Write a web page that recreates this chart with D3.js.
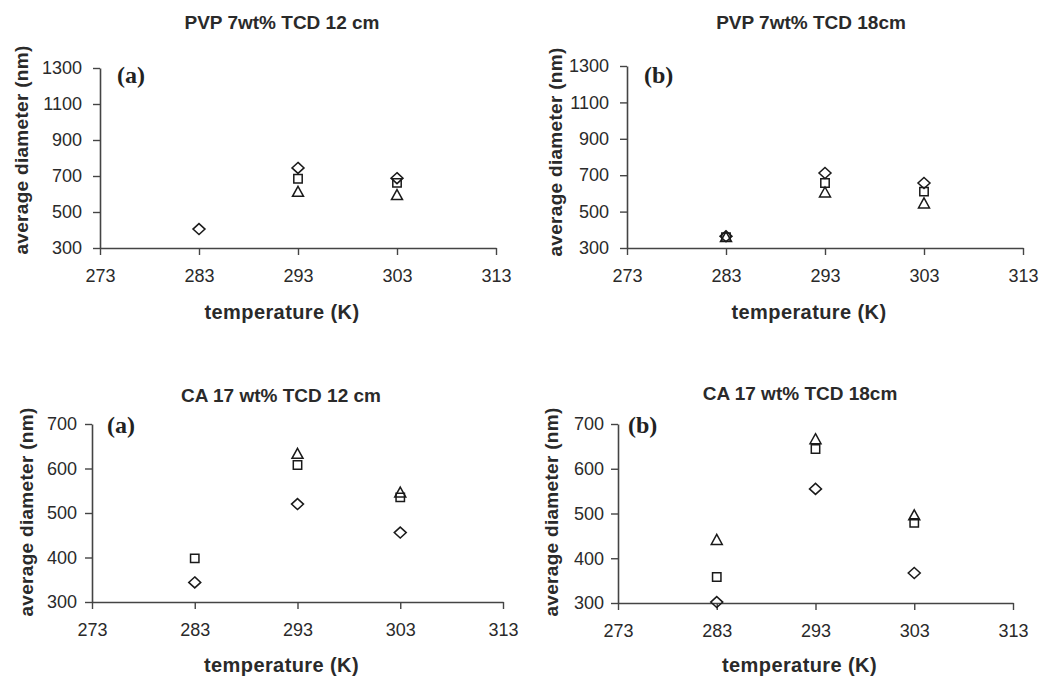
<!DOCTYPE html>
<html><head><meta charset="utf-8">
<script src="https://cdn.jsdelivr.net/npm/d3@7"></script>
<style>
html,body{margin:0;padding:0;background:#fff;}
svg{display:block;font-family:"Liberation Sans",Arial,sans-serif;}
</style></head>
<body>
<svg id="chart" width="1052" height="677"></svg>
<script>
// ---- data ----
const temps = [283, 293, 303];
const xTicks = [273, 283, 293, 303, 313];
const pvpTicks = [300, 500, 700, 900, 1100, 1300];
const caTicks = [300, 400, 500, 600, 700];

const pvp12Diamond  = [405, 745, 688];
const pvp12Square   = [null, 685, 662];
const pvp12Triangle = [null, 612, 594];

const pvp18Diamond  = [364, 712, 657];
const pvp18Square   = [360, 657, 610];
const pvp18Triangle = [360, 605, 545];

const ca12Diamond  = [344, 520, 456];
const ca12Square   = [398, 608, 535];
const ca12Triangle = [null, 633, 546];

const ca18Diamond  = [302, 555, 367];
const ca18Square   = [358, 644, 479];
const ca18Triangle = [441, 666, 496];

const titles = ["PVP 7wt% TCD 12 cm", "PVP 7wt% TCD 18cm", "CA 17 wt% TCD 12 cm", "CA 17 wt% TCD 18cm"];
const panelTags = ["(a)", "(b)", "(a)", "(b)"];

// ---- layout ----
const panels = [
  {title: titles[0], tag: panelTags[0], ticks: pvpTicks, dom: [300,1300],
   xr: [100, 496], yr: [248, 68], titleX: 282, titleY: 22, xtY: 312, ytX: 21, ytY: 150, tagX: 117, tagY: 83, yPad: 11,
   series: [pvp12Diamond, pvp12Square, pvp12Triangle]},
  {title: titles[1], tag: panelTags[1], ticks: pvpTicks, dom: [300,1300],
   xr: [627, 1023], yr: [248, 66], titleX: 811, titleY: 22, xtY: 312, ytX: 555, ytY: 152, tagX: 644, tagY: 83, yPad: 11,
   series: [pvp18Diamond, pvp18Square, pvp18Triangle]},
  {title: titles[2], tag: panelTags[2], ticks: caTicks, dom: [300,700],
   xr: [92, 503], yr: [602, 424], titleX: 281, titleY: 395, xtY: 665, ytX: 26, ytY: 512, tagX: 107, tagY: 433, yPad: 8,
   series: [ca12Diamond, ca12Square, ca12Triangle]},
  {title: titles[3], tag: panelTags[3], ticks: caTicks, dom: [300,700],
   xr: [618, 1013], yr: [603, 424], titleX: 800, titleY: 393, xtY: 665, ytX: 551, ytY: 512, tagX: 628, tagY: 433, yPad: 7,
   series: [ca18Diamond, ca18Square, ca18Triangle]}
];

const shapes = [
  "M0,-5.5L6,0L0,5.5L-6,0Z",          // diamond
  "M-4.2,-4.2H4.2V4.2H-4.2Z",          // square
  "M0,-5.5L5.5,4.5H-5.5Z"             // triangle
];

const svg = d3.select("#chart");
const txtColor = "#2a2a2a";

panels.forEach(p => {
  const x = d3.scaleLinear().domain([273, 313]).range(p.xr);
  const y = d3.scaleLinear().domain(p.dom).range(p.yr);
  const g = svg.append("g");

  // x axis
  const xa = g.append("g").attr("transform", `translate(0,${p.yr[0]})`)
    .call(d3.axisBottom(x).tickValues(xTicks).tickFormat(d3.format("d")).tickSize(7).tickSizeOuter(0).tickPadding(14));
  // y axis
  const ya = g.append("g").attr("transform", `translate(${p.xr[0]},0)`)
    .call(d3.axisLeft(y).tickValues(p.ticks).tickFormat(d3.format("d")).tickSize(7).tickSizeOuter(0).tickPadding(p.yPad));
  [xa, ya].forEach(a => {
    a.select(".domain").attr("stroke", "#444").attr("stroke-width", 1.6);
    a.selectAll(".tick line").attr("stroke", "#444").attr("stroke-width", 1.4);
    a.selectAll(".tick text").attr("fill", txtColor).style("font-size", "18px")
      .style("font-family", '"Liberation Sans", Arial, sans-serif');
  });

  // title
  g.append("text").attr("x", p.titleX).attr("y", p.titleY).attr("dy", "0.35em")
    .attr("text-anchor", "middle").attr("fill", txtColor)
    .style("font-weight", "bold").style("font-size", "19px").text(p.title);
  // x title
  g.append("text").attr("x", (p.xr[0] + p.xr[1]) / 2 - 16).attr("y", p.xtY).attr("dy", "0.35em")
    .attr("text-anchor", "middle").attr("fill", txtColor)
    .style("font-weight", "bold").style("font-size", "20px").style("letter-spacing", "0.4px").text("temperature (K)");
  // y title
  g.append("text").attr("transform", `translate(${p.ytX},${p.ytY}) rotate(-90)`).attr("dy", "0.35em")
    .attr("text-anchor", "middle").attr("fill", txtColor)
    .style("font-weight", "bold").style("font-size", "19px").style("letter-spacing", "0.3px").text("average diameter (nm)");
  // tag
  g.append("text").attr("x", p.tagX).attr("y", p.tagY).attr("fill", "#222")
    .style("font-family", '"Liberation Serif", "Times New Roman", serif')
    .style("font-weight", "bold").style("font-size", "24px").text(p.tag);

  // markers
  p.series.forEach((vals, si) => {
    const pts = temps.map((t, i) => ({t, v: vals[i]})).filter(d => d.v != null);
    g.append("g").selectAll("path").data(pts).join("path")
      .attr("transform", d => `translate(${x(d.t)},${y(d.v)})`)
      .attr("d", shapes[si])
      .attr("fill", "none").attr("stroke", "#1a1a1a").attr("stroke-width", 1.5);
  });
});
</script>
</body></html>
